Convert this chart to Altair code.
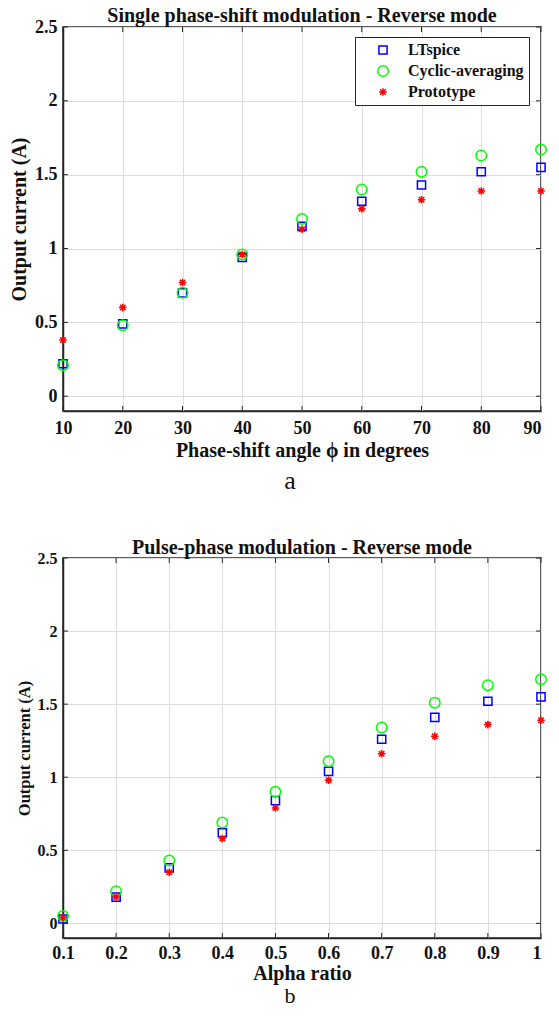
import altair as alt
import pandas as pd

# ---------------- data ----------------
series_names = ["LTspice", "Cyclic-averaging", "Prototype"]
series_colors = ["#0000ff", "#00ff00", "#ff0000"]

# panel a: single phase-shift modulation
phase_deg = [10, 20, 30, 40, 50, 60, 70, 80, 90]
sps_ltspice = [0.22, 0.49, 0.70, 0.94, 1.15, 1.32, 1.43, 1.52, 1.55]
sps_cyclic = [0.21, 0.48, 0.70, 0.96, 1.20, 1.40, 1.52, 1.63, 1.67]
sps_proto = [0.38, 0.60, 0.77, 0.96, 1.13, 1.27, 1.33, 1.39, 1.39]

# panel b: pulse-phase modulation
alpha_ratio = [0.1, 0.2, 0.3, 0.4, 0.5, 0.6, 0.7, 0.8, 0.9, 1.0]
ppm_ltspice = [0.03, 0.18, 0.38, 0.62, 0.84, 1.04, 1.26, 1.41, 1.52, 1.55]
ppm_cyclic = [0.05, 0.22, 0.43, 0.69, 0.90, 1.11, 1.34, 1.51, 1.63, 1.67]
ppm_proto = [0.04, 0.18, 0.35, 0.58, 0.79, 0.98, 1.16, 1.28, 1.36, 1.39]

y_ticks = [0, 0.5, 1, 1.5, 2, 2.5]
sps_x_ticks = [10, 20, 30, 40, 50, 60, 70, 80, 90]
ppm_x_ticks = [0.1, 0.2, 0.3, 0.4, 0.5, 0.6, 0.7, 0.8, 0.9, 1.0]

# ---------------- styling ----------------
FONT = "Liberation Serif"
DARK = "#262626"
TXT = "#111111"
GRID = "#dedede"
W = 478

SQUARE = "M-0.78,-0.78L0.78,-0.78L0.78,0.78L-0.78,0.78Z"
CIRCLE = "M-1,0A1,1 0 1,0 1,0A1,1 0 1,0 -1,0Z"
ASTER = "M-0.72,0L0.72,0M0,-0.72L0,0.72M-0.52,-0.52L0.52,0.52M-0.52,0.52L0.52,-0.52"
series_shapes = [SQUARE, CIRCLE, ASTER]


def long_frame(xs, a, b, c):
    rows = []
    for name, vals in zip(series_names, [a, b, c]):
        for x, y in zip(xs, vals):
            rows.append({"x": x, "y": y, "series": name})
    return pd.DataFrame(rows)


def panel(df, xdom, xticks, xfmt, title, xtitle, letter, H,
          ylab_size, ytitle_size, letter_dy, letter_size,
          xlab_pad, xtitle_pad):
    xs = alt.Scale(domain=xdom, nice=False, zero=False)
    ys = alt.Scale(domain=[-0.1, 2.5], nice=False, zero=False)
    last = xticks[-1] - 1e-6
    xax = alt.Axis(
        values=xticks, format=xfmt, title=xtitle, grid=True,
        gridColor=GRID, gridWidth=1, ticks=False, domain=True,
        domainColor=DARK, domainWidth=1.5,
        labelFont=FONT, labelFontSize=18, labelFontWeight="bold",
        labelColor=TXT, labelPadding=xlab_pad, labelFlush=False,
        labelAlign={"condition": {"test": f"datum.value >= {last}",
                                  "value": "right"}, "value": "center"},
        labelOverlap=False, titleFont=FONT, titleFontSize=20,
        titleFontWeight="bold", titleColor=TXT, titlePadding=xtitle_pad)
    yax = alt.Axis(
        values=y_ticks, format=".2~f", title="Output current (A)",
        grid=True, gridColor=GRID, gridWidth=1, ticks=False,
        domain=True, domainColor=DARK, domainWidth=1.5,
        labelFont=FONT, labelFontSize=ylab_size,
        labelFontWeight="bold", labelColor=TXT, labelPadding=6,
        labelFlush=False, labelOverlap=False, titleFont=FONT,
        titleFontSize=ytitle_size, titleFontWeight="bold",
        titleColor=TXT, titlePadding=5)

    points = alt.Chart(df).mark_point(
        filled=False, strokeWidth=1.5, size=110, opacity=1
    ).encode(
        x=alt.X("x:Q", scale=xs, axis=xax),
        y=alt.Y("y:Q", scale=ys, axis=yax),
        color=alt.Color("series:N", scale=alt.Scale(
            domain=series_names, range=series_colors)),
        shape=alt.Shape("series:N", scale=alt.Scale(
            domain=series_names, range=series_shapes), legend=alt.Legend(
            title=None, orient="none", legendX=W - 186, legendY=10,
            strokeColor=DARK, fillColor="white", padding=5,
            labelFont=FONT, labelFontSize=16, labelFontWeight="bold",
            labelColor=TXT, symbolSize=110, symbolStrokeWidth=1.5,
            rowPadding=4, symbolOffset=15, labelOffset=17)),
    )

    xt = pd.DataFrame({"x": xticks})
    yt = pd.DataFrame({"y": y_ticks})
    tick = dict(color=DARK, strokeWidth=1)
    bottom = alt.Chart(xt).mark_rule(**tick).encode(
        x=alt.X("x:Q", scale=xs, axis=xax),
        y=alt.value(H), y2=alt.value(H - 5))
    top = alt.Chart(xt).mark_rule(**tick).encode(
        x=alt.X("x:Q", scale=xs, axis=xax),
        y=alt.value(0), y2=alt.value(5))
    left = alt.Chart(yt).mark_rule(**tick).encode(
        y=alt.Y("y:Q", scale=ys, axis=yax),
        x=alt.value(0), x2=alt.value(5))
    right = alt.Chart(yt).mark_rule(**tick).encode(
        y=alt.Y("y:Q", scale=ys, axis=yax),
        x=alt.value(W), x2=alt.value(W - 5))

    lab = alt.Chart(pd.DataFrame({"label": [letter]})).mark_text(
        font=FONT, fontSize=letter_size, fontWeight="normal", color=TXT,
        baseline="middle", align="center"
    ).encode(x=alt.value(W / 2 - 12), y=alt.value(H + letter_dy),
             text="label:N")

    return alt.layer(points, bottom, top, left, right, lab).properties(
        width=W, height=H,
        title=alt.TitleParams(title, font=FONT, fontSize=20,
                              fontWeight="bold", color=TXT,
                              offset=-8, anchor="middle"))


chart_a = panel(long_frame(phase_deg, sps_ltspice, sps_cyclic, sps_proto),
                [10, 90], sps_x_ticks, "d",
                "Single phase-shift modulation - Reverse mode",
                "Phase-shift angle \u03d5 in degrees", "a", 384, 18, 20,
                70, 26, 8, 3)
chart_b = panel(long_frame(alpha_ratio, ppm_ltspice, ppm_cyclic, ppm_proto),
                [0.1, 1.0], ppm_x_ticks, ".1~f",
                "Pulse-phase modulation - Reverse mode",
                "Alpha ratio", "b", 380, 16, 16.5, 58, 22, 6, 1)

chart = alt.vconcat(chart_a, chart_b, spacing=42).properties(
    padding={"left": 0, "top": -3, "right": 0, "bottom": 0}
).configure(background="white").configure_view(
    stroke=DARK, strokeWidth=1.5)

chart.save("out.html", embed_options={"renderer": "svg", "actions": False})
